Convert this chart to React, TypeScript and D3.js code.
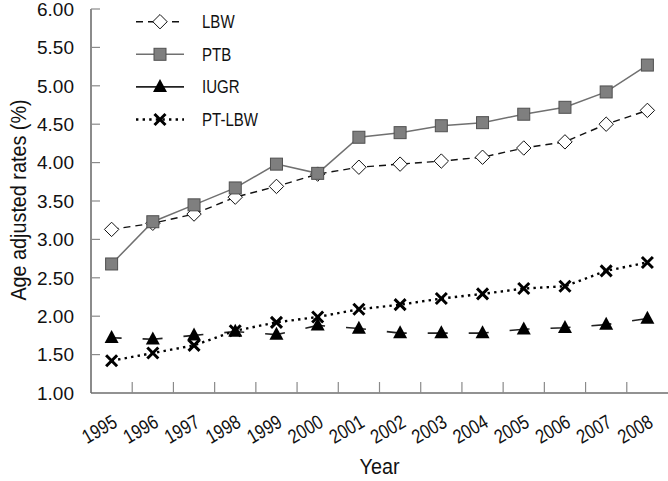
import React from "react";
import * as d3 from "d3";

const years = ["1995","1996","1997","1998","1999","2000","2001","2002","2003","2004","2005","2006","2007","2008"];
const lbw = [3.13, 3.21, 3.33, 3.55, 3.69, 3.85, 3.94, 3.98, 4.02, 4.07, 4.19, 4.27, 4.50, 4.68];
const ptb = [2.68, 3.23, 3.45, 3.67, 3.98, 3.86, 4.33, 4.39, 4.48, 4.52, 4.63, 4.72, 4.92, 5.27];
const iugr = [1.72, 1.70, 1.75, 1.80, 1.76, 1.88, 1.84, 1.78, 1.78, 1.78, 1.83, 1.85, 1.89, 1.97];
const ptlbw = [1.42, 1.52, 1.62, 1.81, 1.92, 1.99, 2.09, 2.15, 2.23, 2.29, 2.36, 2.39, 2.59, 2.70];
const yTicks = [1, 1.5, 2, 2.5, 3, 3.5, 4, 4.5, 5, 5.5, 6];
const legendNames = ["LBW", "PTB", "IUGR", "PT-LBW"];

const W = 668, H = 481;
const L = 91, R = 668, T = 9, B = 393;
const FONT = "'Liberation Sans', Arial, Helvetica, sans-serif";

function Marker({ kind, x, y }: { kind: string; x: number; y: number }) {
  if (kind === "LBW") {
    const s = 7.2;
    return <path d={`M${x},${y - s}L${x + s},${y}L${x},${y + s}L${x - s},${y}Z`} fill="#fff" stroke="#111" strokeWidth={1} />;
  }
  if (kind === "PTB") {
    const s = 6;
    return <rect x={x - s} y={y - s} width={2 * s} height={2 * s} fill="#7f7f7f" stroke="#505050" strokeWidth={1} />;
  }
  if (kind === "IUGR") {
    const w = 7, h = 13;
    return <path d={`M${x},${y - h * 0.6}L${x + w},${y + h * 0.4}L${x - w},${y + h * 0.4}Z`} fill="#000" />;
  }
  const s = 5.5;
  return <path d={`M${x - s},${y - s}L${x + s},${y + s}M${x + s},${y - s}L${x - s},${y + s}`} stroke="#000" strokeWidth={3} fill="none" />;
}

const styles: Record<string, { stroke: string; width: number; dash: string; offset?: number }> = {
  LBW: { stroke: "#111", width: 1.4, dash: "7,5" },
  PTB: { stroke: "#707070", width: 1.5, dash: "" },
  IUGR: { stroke: "#222", width: 1.6, dash: "20,21", offset: 10 },
  "PT-LBW": { stroke: "#000", width: 2.4, dash: "2.4,4.2" },
};

export default function App() {
  const x = d3.scaleBand<string>().domain(years).range([L, R]).padding(0);
  const y = d3.scaleLinear().domain([1, 6]).range([B, T]);
  const cx = (yr: string) => (x(yr) as number) + x.bandwidth() / 2;
  const series: [string, number[]][] = [["LBW", lbw], ["PTB", ptb], ["IUGR", iugr], ["PT-LBW", ptlbw]];
  const line = d3.line<number>().x((_, i) => cx(years[i])).y((v) => y(v));

  return (
    <svg width={W} height={H} style={{ display: "block", position: "absolute", left: 0, top: 0 }} fontFamily={FONT}>
      <rect width={W} height={H} fill="#fff" />
      {/* axes */}
      <line x1={L} y1={T} x2={L} y2={B} stroke="#6e6e6e" strokeWidth={1.6} />
      <line x1={L} y1={B} x2={R} y2={B} stroke="#6e6e6e" strokeWidth={1.6} />
      {yTicks.map((t) => (
        <g key={t}>
          {t > 1 && <line x1={L} x2={L + 9} y1={y(t)} y2={y(t)} stroke="#8a8a8a" strokeWidth={1.2} />}
          <text x={74} y={y(t)} dy="0.36em" textAnchor="end" fontSize={19} fill="#111">{t.toFixed(2)}</text>
        </g>
      ))}
      {years.slice(1).map((yr) => (
        <line key={yr} x1={x(yr) as number} x2={x(yr) as number} y1={B} y2={B - 11} stroke="#8a8a8a" strokeWidth={1.2} />
      ))}
      {years.map((yr) => (
        <text key={yr} transform={`translate(${cx(yr) + 7},${B + 33}) rotate(-30) scale(0.82,1)`} textAnchor="end" fontSize={20} fill="#111">{yr}</text>
      ))}
      <text transform={`translate(${(L + R) / 2},474) scale(0.9,1)`} textAnchor="middle" fontSize={22} fill="#111">Year</text>
      <text transform={`translate(26,200) rotate(-90) scale(0.9,1)`} textAnchor="middle" fontSize={22} fill="#111">Age adjusted rates (%)</text>

      {/* lines */}
      {series.map(([name, vals]) => {
        const st = styles[name];
        return (
          <path key={name} d={line(vals) as string} fill="none" stroke={st.stroke} strokeWidth={st.width}
            strokeDasharray={st.dash || undefined} strokeDashoffset={st.offset || 0} />
        );
      })}
      {series.map(([name, vals]) => (
        <g key={name + "m"}>
          {vals.map((v, i) => <Marker key={i} kind={name} x={cx(years[i])} y={y(v)} />)}
        </g>
      ))}

      {/* legend */}
      {legendNames.map((name, i) => {
        const ly = 21.7 + i * 32.6;
        const st = styles[name];
        return (
          <g key={name}>
            <line x1={136} x2={184} y1={ly} y2={ly} stroke={st.stroke} strokeWidth={st.width}
              strokeDasharray={name === "IUGR" ? undefined : st.dash || undefined} />
            <Marker kind={name} x={160} y={ly} />
            <text transform={`translate(202,${ly}) scale(0.86,1)`} dy="0.36em" fontSize={17.5} fill="#111">{name}</text>
          </g>
        );
      })}
    </svg>
  );
}
